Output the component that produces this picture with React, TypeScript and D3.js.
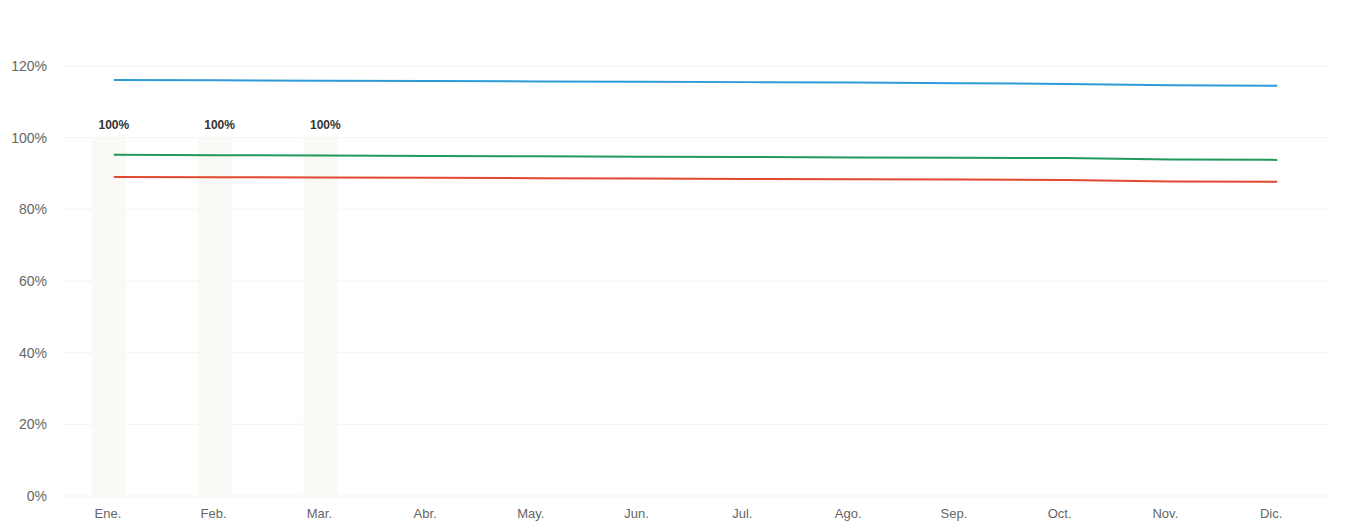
import React, { useEffect, useRef } from 'react';
import * as d3 from 'd3';

const months = ['Ene.', 'Feb.', 'Mar.', 'Abr.', 'May.', 'Jun.', 'Jul.', 'Ago.', 'Sep.', 'Oct.', 'Nov.', 'Dic.'];
const yTicks = [0, 20, 40, 60, 80, 100, 120];

// bars only present for the first three months
const barValues = [100, 100, 100];

const blueValues = [116.1, 116.0, 115.9, 115.8, 115.7, 115.6, 115.5, 115.4, 115.2, 115.0, 114.6, 114.5];
const greenValues = [95.2, 95.1, 95.0, 94.9, 94.8, 94.7, 94.6, 94.5, 94.4, 94.3, 93.9, 93.8];
const redValues = [89.0, 88.95, 88.9, 88.8, 88.7, 88.6, 88.5, 88.4, 88.3, 88.2, 87.8, 87.7];

const seriesList = [
    { name: 'blue', values: blueValues, color: '#2f9ad8' },
    { name: 'green', values: greenValues, color: '#1f9a5b' },
    { name: 'red', values: redValues, color: '#e14a2e' },
];

const App = () => {
    const ref = useRef<SVGSVGElement>(null);

    useEffect(() => {
        const width = 1366;
        const height = 527;
        const svg = d3.select(ref.current)
            .attr('width', width)
            .attr('height', height)
            .style('display', 'block')
            .style('background', '#fff');
        svg.selectAll('*').remove();

        const x = d3.scaleBand<string>()
            .domain(months)
            .range([55, 1324]);

        const y = d3.scaleLinear()
            .domain([0, 120])
            .range([496, 66]);

        // grid
        svg.append('g')
            .selectAll('line')
            .data(yTicks)
            .enter()
            .append('line')
            .attr('x1', 62)
            .attr('x2', 1330)
            .attr('y1', d => y(d))
            .attr('y2', d => y(d))
            .attr('stroke', '#f3f3f3')
            .attr('stroke-width', 1);

        // y axis labels
        svg.append('g')
            .selectAll('text')
            .data(yTicks)
            .enter()
            .append('text')
            .attr('x', 47)
            .attr('y', d => y(d))
            .attr('dy', '0.35em')
            .attr('text-anchor', 'end')
            .style('font-family', 'Liberation Sans, Arial, sans-serif')
            .style('font-size', '14px')
            .style('fill', '#666')
            .text(d => d + '%');

        // x axis labels
        svg.append('g')
            .selectAll('text')
            .data(months)
            .enter()
            .append('text')
            .attr('x', d => (x(d) as number) + x.bandwidth() / 2)
            .attr('y', 518)
            .attr('text-anchor', 'middle')
            .style('font-family', 'Liberation Sans, Arial, sans-serif')
            .style('font-size', '13px')
            .style('fill', '#666')
            .text(d => d);

        // bars
        const barW = 34;
        svg.append('g')
            .selectAll('rect')
            .data(barValues)
            .enter()
            .append('rect')
            .attr('x', (d, i) => (x(months[i]) as number) + x.bandwidth() / 2 - barW / 2 + 1)
            .attr('y', d => y(d))
            .attr('width', barW)
            .attr('height', d => y(0) - y(d))
            .attr('fill', '#f9f9f6');

        svg.append('g')
            .selectAll('text')
            .data(barValues)
            .enter()
            .append('text')
            .attr('x', (d, i) => (x(months[i]) as number) + x.bandwidth() / 2 + 6)
            .attr('y', d => y(d) - 9)
            .attr('text-anchor', 'middle')
            .style('font-family', 'Liberation Sans, Arial, sans-serif')
            .style('font-size', '12px')
            .style('font-weight', 'bold')
            .style('fill', '#333')
            .text(d => d + '%');

        // lines
        const line = d3.line<number>()
            .x((d, i) => (x(months[i]) as number) + x.bandwidth() / 2 + 6)
            .y(d => y(d));

        svg.append('g')
            .selectAll('path')
            .data(seriesList)
            .enter()
            .append('path')
            .attr('d', d => line(d.values))
            .attr('fill', 'none')
            .attr('stroke', d => d.color)
            .attr('stroke-width', 2);
    }, []);

    return (
        <svg ref={ref} style={{ position: 'absolute', left: 0, top: 0 }}></svg>
    );
};

export default App;
